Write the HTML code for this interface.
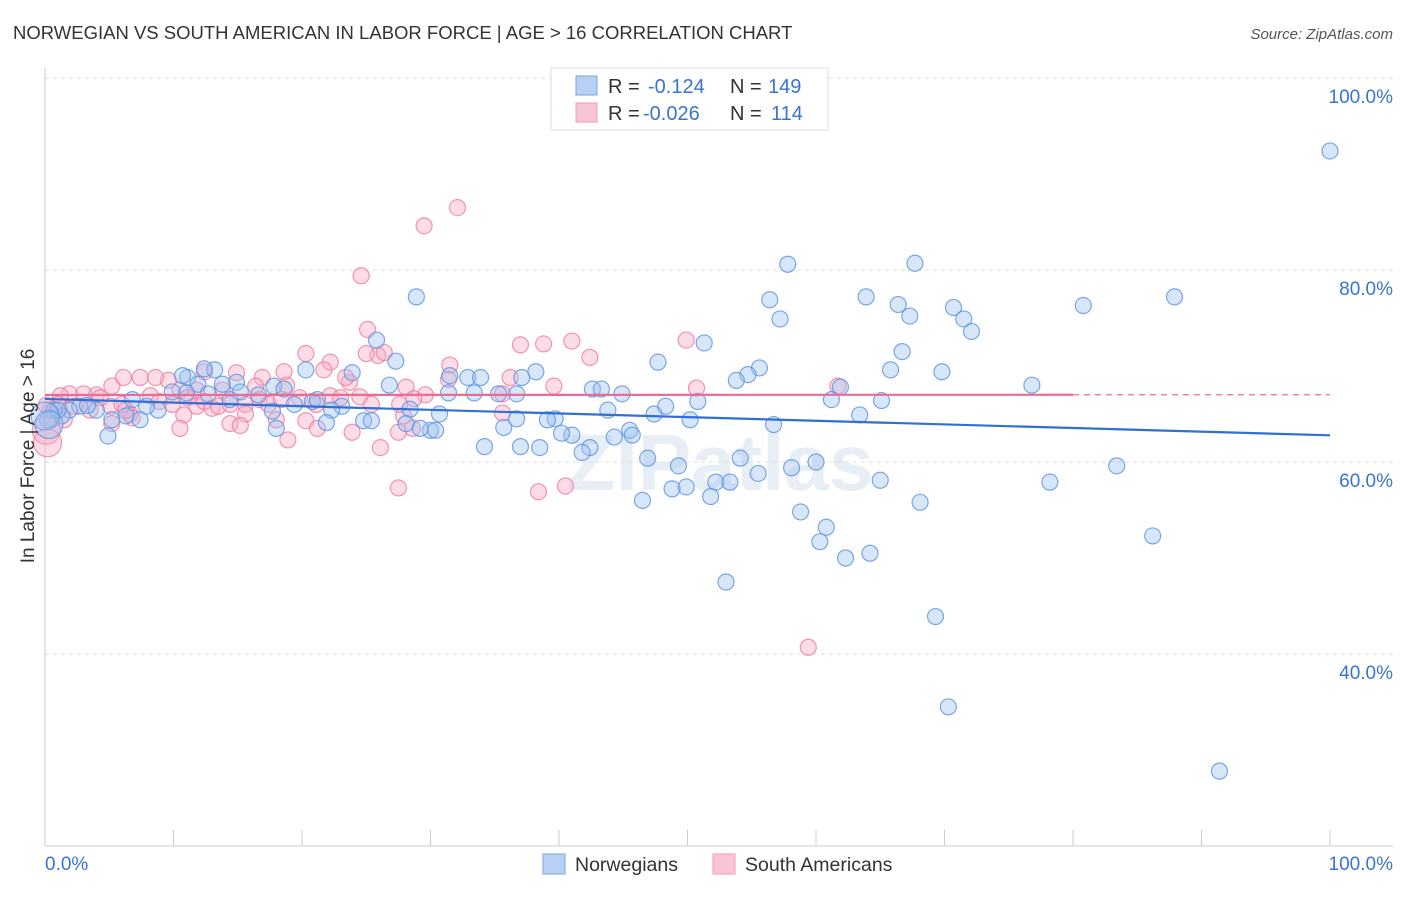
<!DOCTYPE html>
<html><head><meta charset="utf-8">
<style>
body{margin:0;background:#fff;font-family:"Liberation Sans",sans-serif;}
svg text{font-family:"Liberation Sans",sans-serif;}
</style></head>
<body>
<svg id="chart" width="1406" height="892" viewBox="0 0 1406 892" xmlns="http://www.w3.org/2000/svg">
<text x="13" y="39" font-size="18.5" fill="#333">NORWEGIAN VS SOUTH AMERICAN IN LABOR FORCE | AGE &gt; 16 CORRELATION CHART</text>
<text x="1393" y="39" font-size="15" fill="#555" font-style="italic" text-anchor="end">Source: ZipAtlas.com</text>
<text x="720" y="490" font-size="80" fill="#e8eef5" text-anchor="middle" font-weight="bold">ZIPatlas</text>
<g id="grid"></g>
<g id="axes"></g>
<g id="pts"></g>
<g id="trends"></g>
<text transform="translate(34,456) rotate(-90)" font-size="19" fill="#333" text-anchor="middle">In Labor Force | Age &gt; 16</text>
<g>
<rect x="551" y="68" width="277" height="62" fill="#fff" stroke="#ddd"/>
<rect x="576" y="76" width="21" height="19" fill="#b7d0f3" stroke="#7aa6e6"/>
<rect x="576" y="103" width="21" height="19" fill="#f9c4d4" stroke="#f09ab6"/>
<text x="608" y="93" font-size="20" fill="#333">R = </text><text x="648" y="93" font-size="20" fill="#3a74d0">-0.124</text>
<text x="730" y="93" font-size="20" fill="#333">N =</text><text x="768" y="93" font-size="20" fill="#3a74d0">149</text>
<text x="608" y="120" font-size="20" fill="#333">R = </text><text x="643" y="120" font-size="20" fill="#3a74d0">-0.026</text>
<text x="730" y="120" font-size="20" fill="#333">N =</text><text x="771" y="120" font-size="20" fill="#3a74d0">114</text>
</g>
<g>
<rect x="543" y="854" width="22" height="20" fill="#b7d0f3" stroke="#7aa6e6"/>
<text x="575" y="871" font-size="19.5" fill="#333">Norwegians</text>
<rect x="713" y="854" width="22" height="20" fill="#f9c4d4" stroke="#f09ab6"/>
<text x="745" y="871" font-size="19.5" fill="#333">South Americans</text>
</g>
</svg>
<script>
const blueX=[100,57.8,67.7,28.9,56.4,63.9,66.4,70.7,80.8,87.9,57.2,67.3,71.5,72.1,51.3,47.7,66.7,25.8,27.3,23.9,20.3,13.2,12.4,11.1,10.7,14.9,13.8,11.9,17.8,18.6,26.8,31.5,32.9,33.9,38.2,37.1,42.6,43.3,44.9,36.7,35.3,33.4,31.4,55.6,54.7,53.8,76.8,69.8,65.8,61.9,61.2,65.1,43.8,47.4,48.3,50.8,50.2,63.4,56.7,39.7,39.1,41.0,40.2,45.5,44.3,45.7,42.4,41.8,38.5,37.0,34.2,35.7,36.7,30.7,30.0,30.4,28.4,28.1,29.2,24.8,25.4,23.1,22.3,21.9,20.8,21.2,19.4,18.0,17.7,16.6,15.2,14.4,12.7,11.0,9.9,8.8,7.9,6.8,7.4,6.3,5.2,4.9,4.0,2.7,1.9,1.3,0.7,0.5,46.9,49.3,54.1,55.5,58.1,60.0,65.0,52.2,53.3,48.8,49.9,51.8,46.5,68.1,58.8,60.8,60.3,62.3,64.2,78.2,83.4,86.2,53.0,69.3,70.3,91.4,0.2,1.0,3.3];
const blueY=[92.4,80.6,80.7,77.2,76.9,77.2,76.4,76.1,76.3,77.2,74.9,75.2,74.9,73.6,72.4,70.4,71.5,72.7,70.5,69.3,69.6,69.6,69.7,68.8,69.0,68.3,68.1,68.1,67.9,67.6,68.0,69.0,68.8,68.8,69.4,68.8,67.6,67.6,67.1,67.1,67.1,67.2,67.2,69.8,69.1,68.5,68.0,69.4,69.6,67.8,66.5,66.4,65.4,65.0,65.8,66.3,64.4,64.9,63.9,64.5,64.4,62.8,63.0,63.3,62.6,62.8,61.5,61.0,61.5,61.6,61.6,63.6,64.5,65.0,63.3,63.3,65.5,64.0,63.5,64.3,64.3,65.8,65.4,64.1,66.3,66.5,66.0,63.5,65.3,67.0,67.3,66.5,67.1,67.2,67.3,65.4,65.8,66.5,64.4,64.8,64.4,62.7,65.4,65.8,65.4,64.8,65.4,64.4,60.4,59.6,60.4,58.8,59.4,60.0,58.1,57.9,57.9,57.2,57.4,56.4,56.0,55.8,54.8,53.2,51.7,50.0,50.5,57.9,59.6,52.3,47.5,43.9,34.5,27.8,64.4,65.4,65.9];
const pinkX=[32.1,29.5,24.6,25.1,49.9,41.0,38.8,37.0,42.4,31.5,25.9,26.4,25.0,22.2,20.3,21.7,18.6,14.9,12.4,18.8,23.7,23.4,28.1,29.6,28.7,27.6,31.4,36.2,35.6,35.6,39.6,61.7,50.7,16.9,16.4,13.8,11.8,10.5,9.6,8.6,7.4,6.1,5.2,4.0,3.0,1.9,1.2,1.0,0.4,0.1,1.5,2.3,3.5,5.1,6.0,6.6,8.2,8.9,9.9,11.1,11.8,12.4,13.0,13.5,14.4,15.6,16.7,17.4,18.4,19.8,21.1,22.2,23.0,24.5,25.4,10.8,15.6,18.0,14.4,15.2,10.5,6.8,5.2,20.3,21.2,23.9,26.1,27.5,27.9,28.6,27.5,38.4,40.5,18.9,59.4,6.3,4.3];
const pinkY=[86.5,84.6,79.4,73.8,72.7,72.6,72.3,72.2,70.9,70.1,71.1,71.4,71.3,70.4,71.3,69.6,69.4,69.3,69.4,68.0,68.3,68.8,67.8,67.0,66.6,66.0,68.6,68.8,67.1,65.1,67.9,67.9,67.7,68.8,67.9,67.5,67.5,67.5,68.5,68.8,68.8,68.8,67.9,67.0,67.1,67.1,66.9,66.0,65.4,65.9,64.4,65.8,65.4,65.8,66.0,65.0,66.9,66.3,66.0,66.7,65.8,66.3,65.6,65.8,66.0,66.0,66.5,66.0,66.5,66.7,66.0,66.9,66.7,66.8,66.0,64.9,65.0,64.4,64.0,63.8,63.5,64.6,64.0,64.3,63.5,63.1,61.5,63.1,64.8,63.5,57.3,56.9,57.5,62.3,40.7,65.4,66.7];
const bigBlueX=[0,0.3], bigBlueY=[64.8,63.9];
const bigPinkX=[0.1,0.2], bigPinkY=[63.3,62.0];
const yTicks=[100,80,60,40];
const xTickVals=[0,10,20,30,40,50,60,70,80,90,100];

const NS="http://www.w3.org/2000/svg";
const X0=45,X1=1330,Ytop=78,Ybot=846;
function sx(v){return X0+(X1-X0)*v/100;}
function sy(v){return Ybot-(Ybot-Ytop)*(v-20)/80;}
function mk(tag,attrs,parent){const e=document.createElementNS(NS,tag);for(const k in attrs)e.setAttribute(k,attrs[k]);parent.appendChild(e);return e;}
const grid=document.getElementById('grid'),axes=document.getElementById('axes'),pts=document.getElementById('pts'),tr=document.getElementById('trends');
yTicks.forEach(t=>{
  const l=mk('line',{x1:45,x2:1393,y1:sy(t),y2:sy(t),stroke:'#ddd','stroke-dasharray':'4,4'},grid);
  
  
  const tx=mk('text',{x:1393,y:sy(t)+25,'font-size':19,fill:'#3a74d0','text-anchor':'end'},axes);
  tx.textContent=t.toFixed(1)+'%';
  
  
});
mk('line',{x1:45,x2:45,y1:68,y2:846,stroke:'#ccc'},axes);
mk('line',{x1:45,x2:1393,y1:846,y2:846,stroke:'#ccc'},axes);
xTickVals.forEach(t=>{
  const l=mk('line',{x1:sx(t),x2:sx(t),y1:830,y2:846,stroke:'#ccc'},axes);
  
  
});
const xl0=mk('text',{x:45,y:870,'font-size':19,fill:'#3a74d0'},axes);xl0.textContent='0.0%';


const xl1=mk('text',{x:1393,y:870,'font-size':19,fill:'#3a74d0','text-anchor':'end'},axes);xl1.textContent='100.0%';



function dots(xs,ys,r,fill,stroke,name){
  xs.forEach((x,i)=>{
    const c=mk('circle',{cx:sx(x),cy:sy(ys[i]),r:r,fill:fill,'fill-opacity':0.4,stroke:stroke,'stroke-width':1.2,'stroke-opacity':0.8},pts);
    
    
  });
}
dots(pinkX,pinkY,8,'#f7a9c2','#f07aa0','south-american-point');
dots(blueX,blueY,8,'#9cc0f0','#5b92e0','norwegian-point');
dots(bigPinkX,bigPinkY,14,'#f7a9c2','#f07aa0','south-american-point');
dots(bigBlueX,bigBlueY,14,'#9cc0f0','#5b92e0','norwegian-point');

function fit(xs,ys){const n=xs.length;let mx=0,my=0;xs.forEach((x,i)=>{mx+=x;my+=ys[i];});mx/=n;my/=n;let sxy=0,sxx=0;xs.forEach((x,i)=>{sxy+=(x-mx)*(ys[i]-my);sxx+=(x-mx)**2;});const b=sxy/sxx;return [my-b*mx,b];}
const [ba,bb]=fit(blueX,blueY);
const bl=mk('line',{x1:sx(0),y1:sy(ba),x2:sx(100),y2:sy(ba+bb*100),stroke:'#2f6fd6','stroke-width':2.2},tr);


const [pa,pb]=fit(pinkX,pinkY);
const pl=mk('line',{x1:sx(0),y1:sy(pa),x2:sx(80),y2:sy(pa+pb*80),stroke:'#ec6b94','stroke-width':2.2},tr);


const pd=mk('line',{x1:sx(80),y1:sy(pa+pb*80),x2:sx(100),y2:sy(pa+pb*100),stroke:'#ec6b94','stroke-width':1.2,'stroke-dasharray':'6,5'},tr);


</script>
</body></html>
